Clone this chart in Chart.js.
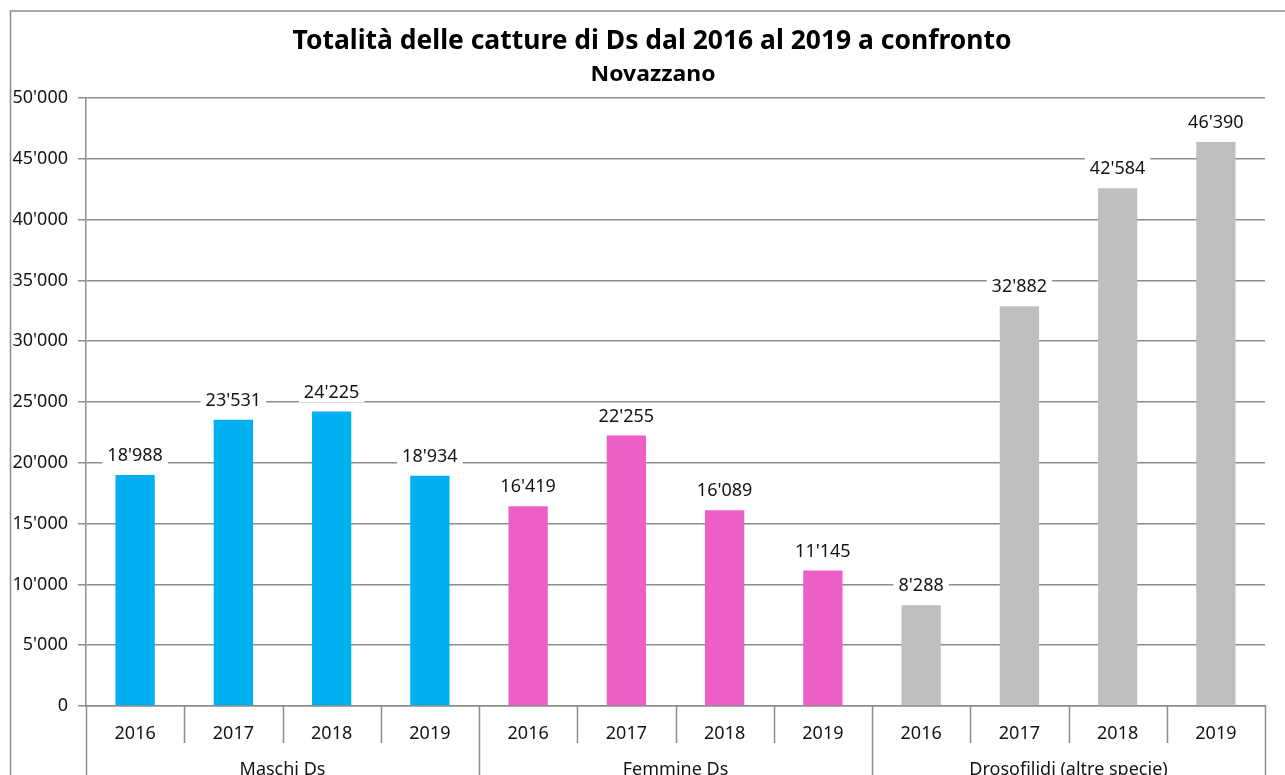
<!DOCTYPE html>
<html>
<head>
<meta charset="utf-8">
<script src="https://cdn.jsdelivr.net/npm/chart.js@4.4.1/dist/chart.umd.min.js"></script>
<style>
  body { margin: 0; background: #fff; }
  #wrap { width: 1285px; height: 775px; }
</style>
</head>
<body>
<div id="wrap"><canvas id="grafico" width="1285" height="775"></canvas></div>
<script>
// dati
const anni = ['2016', '2017', '2018', '2019'];
const gruppi = ['Maschi Ds', 'Femmine Ds', 'Drosofilidi (altre specie)'];
const maschi = [18988, 23531, 24225, 18934];
const femmine = [16419, 22255, 16089, 11145];
const drosofilidi = [8288, 32882, 42584, 46390];
const yTicks = [0, 5000, 10000, 15000, 20000, 25000, 30000, 35000, 40000, 45000, 50000];

const titolo = 'Totalità delle catture di Ds dal 2016 al 2019 a confronto';
const sottotitolo = 'Novazzano';
const colori = ['#00B0F0', '#ED5FC7', '#BFBFBF'];

const serie = [maschi, femmine, drosofilidi];
const etichette = gruppi.flatMap(() => anni);
const valori = serie.flat();
const coloriBarre = serie.flatMap((s, g) => s.map(() => colori[g]));

const grigio = '#8c8c8c';
const testo = '#141414';
const font = "'Noto Sans', 'DejaVu Sans', sans-serif";

function formatta(v) {
    return String(v).replace(/\B(?=(\d{3})+(?!\d))/g, "'");
}

// sfondo, cornice e titolo
const cornice = {
    id: 'cornice',
    beforeDraw(chart) {
        const ctx = chart.ctx;
        ctx.save();
        ctx.fillStyle = '#fff';
        ctx.fillRect(0, 0, chart.width, chart.height);
        ctx.strokeStyle = grigio;
        ctx.lineWidth = 1.5;
        ctx.strokeRect(10.5, 11, 1320, 820);
        ctx.restore();
    },
    afterDraw(chart) {
        const ctx = chart.ctx;
        const x = chart.scales.x;
        const area = chart.chartArea;
        ctx.save();

        // titolo (compresso in larghezza come l'originale)
        ctx.fillStyle = '#000';
        ctx.textAlign = 'center';
        ctx.textBaseline = 'alphabetic';
        ctx.font = 'bold 27px ' + font;
        let w = ctx.measureText(titolo).width;
        ctx.save();
        ctx.translate(652, 49);
        ctx.scale(719 / w, 1);
        ctx.fillText(titolo, 0, 0);
        ctx.restore();

        ctx.font = 'bold 22px ' + font;
        w = ctx.measureText(sottotitolo).width;
        ctx.save();
        ctx.translate(653, 81);
        ctx.scale(125 / w, 1);
        ctx.fillText(sottotitolo, 0, 0);
        ctx.restore();

        // separatori dell'asse delle categorie
        ctx.strokeStyle = grigio;
        ctx.lineWidth = 1.5;
        const passo = (area.right - area.left) / etichette.length;
        for (let i = 0; i <= etichette.length; i++) {
            const px = Math.round(area.left + i * passo) + 0.5;
            const fine = (i % anni.length === 0) ? chart.height : area.bottom + 37;
            ctx.beginPath();
            ctx.moveTo(px, area.bottom);
            ctx.lineTo(px, fine);
            ctx.stroke();
        }

        // etichette dei gruppi
        ctx.fillStyle = testo;
        ctx.font = '18px ' + font;
        ctx.textAlign = 'center';
        gruppi.forEach((g, i) => {
            const a = x.getPixelForValue(i * anni.length);
            const b = x.getPixelForValue(i * anni.length + anni.length - 1);
            ctx.fillText(g, (a + b) / 2, 775);
        });
        ctx.restore();
    }
};

// etichette dei valori sopra le barre
const etichetteValori = {
    id: 'etichetteValori',
    afterDatasetsDraw(chart) {
        const ctx = chart.ctx;
        const meta = chart.getDatasetMeta(0);
        ctx.save();
        ctx.font = '18px ' + font;
        ctx.textAlign = 'center';
        ctx.textBaseline = 'middle';
        meta.data.forEach((bar, i) => {
            const t = formatta(valori[i]);
            const w = ctx.measureText(t).width;
            const cy = bar.y - 20;
            ctx.fillStyle = '#fff';
            ctx.fillRect(bar.x - w / 2 - 5, cy - 11, w + 10, 22);
            ctx.fillStyle = testo;
            ctx.fillText(t, bar.x, cy + 1);
        });
        ctx.restore();
    }
};

new Chart(document.getElementById('grafico'), {
    type: 'bar',
    data: {
        labels: etichette,
        datasets: [{
            data: valori,
            backgroundColor: coloriBarre,
            borderWidth: 0,
            categoryPercentage: 1,
            barPercentage: 0.4
        }]
    },
    options: {
        responsive: false,
        animation: false,
        devicePixelRatio: 1,
        layout: { padding: { top: 98, right: 20, bottom: 0, left: 0 } },
        plugins: {
            legend: { display: false },
            title: { display: false },
            tooltip: { enabled: false }
        },
        scales: {
            x: {
                grid: { display: false },
                border: { display: true, color: grigio, width: 1.5 },
                ticks: {
                    color: testo,
                    font: { family: font, size: 18 },
                    padding: 9,
                    maxRotation: 0,
                    autoSkip: false
                },
                afterFit(s) { s.height = 69; }
            },
            y: {
                min: 0,
                max: 50000,
                afterBuildTicks(s) { s.ticks = yTicks.map(v => ({ value: v })); },
                grid: { color: grigio, lineWidth: 1.5, tickLength: 8 },
                border: { display: true, color: grigio, width: 1.5 },
                ticks: {
                    color: testo,
                    font: { family: font, size: 18 },
                    padding: 10,
                    callback: v => formatta(v)
                },
                afterFit(s) { s.width = 86; }
            }
        }
    },
    plugins: [cornice, etichetteValori]
});
</script>
</body>
</html>
